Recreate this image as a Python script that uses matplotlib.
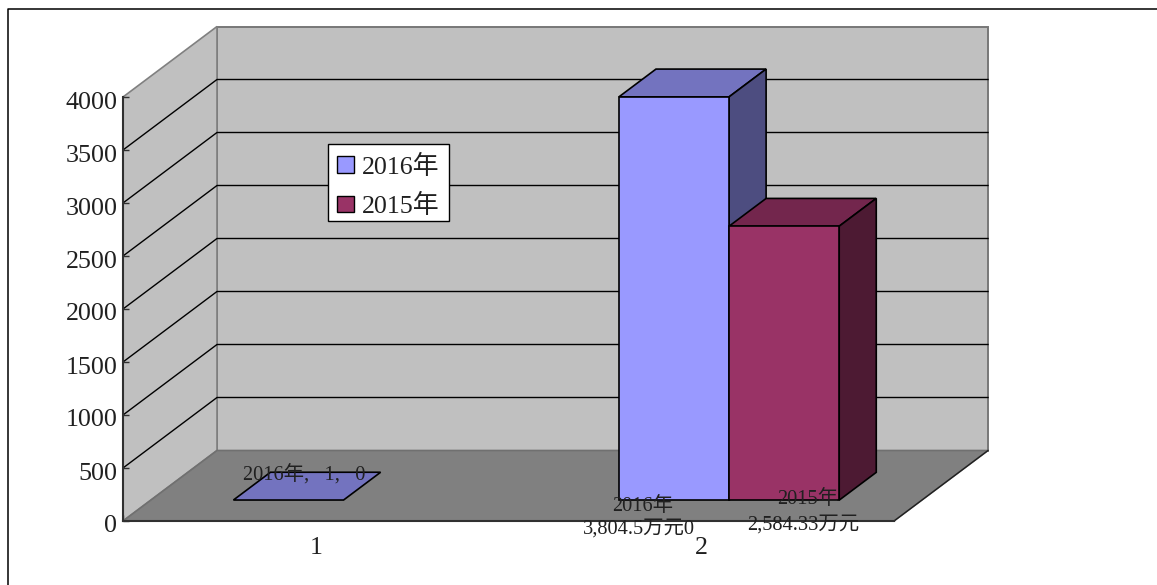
import matplotlib
matplotlib.use('Agg')
import matplotlib.pyplot as plt
from matplotlib.lines import Line2D
from matplotlib.patches import Patch, Polygon, Rectangle
from matplotlib.transforms import Affine2D

plt.rcParams['font.family'] = ['Liberation Serif', 'Noto Sans CJK SC']

categories = ['1', '2']
series_names = ['2016年', '2015年']
values_2016 = [1, 3804.5]
values_2015 = [0, 2584.33]
y_ticks = [0, 500, 1000, 1500, 2000, 2500, 3000, 3500, 4000]

front_colors = ['#9999FF', '#993366']
top_colors = ['#7373BF', '#73264D']
side_colors = ['#4D4D80', '#4D1A33']

W, H = 1157, 585
x_max = 2.0
y_max = 4000.0
# oblique offset of the back wall, in data units
depth_x = 94 / 771 * x_max
depth_y = 70.5 / 424 * y_max
bar_width = 1 / 3.5
bar_d0, bar_d1 = 0.296, 0.69


def proj(x, y, d):
    return (x + d * depth_x, y + d * depth_y)


fig = plt.figure(figsize=(W / 100, H / 100), dpi=100)
# page frame: only the top and left edges are visible
fig.add_artist(Line2D([7.5 / W, 7.5 / W, 1], [0, 1 - 8.5 / H, 1 - 8.5 / H], transform=fig.transFigure,
                      color='black', lw=1.1, zorder=-1))
ax = fig.add_axes([123 / W, (H - 521) / H, 771 / W, 424 / H])
ax.set_xlim(0, x_max)
ax.set_ylim(0, y_max)
ax.patch.set_visible(False)


def face(points, fc, ec, lw, z):
    ax.add_patch(Polygon(points, closed=True, fc=fc, ec=ec, lw=lw, zorder=z, clip_on=False))


# walls and floor
face([proj(0, 0, 1), proj(x_max, 0, 1), proj(x_max, y_max, 1), proj(0, y_max, 1)], '#C0C0C0', '#787878', 1.4, 1)
face([proj(0, 0, 0), proj(0, 0, 1), proj(0, y_max, 1), proj(0, y_max, 0)], '#C0C0C0', '#808080', 1.2, 1)
for v in y_ticks[1:-1]:
    ax.plot(*zip(proj(0, v, 0), proj(0, v, 1), proj(x_max, v, 1)), color='black', lw=1, zorder=1.5, clip_on=False)
face([proj(0, 0, 0), proj(x_max, 0, 0), proj(x_max, 0, 1), proj(0, 0, 1)], '#808080', '#707070', 1.2, 2)
ax.plot(*zip(proj(x_max, 0, 0), proj(x_max, 0, 1)), color='#202020', lw=1, zorder=2.1, clip_on=False)


def draw_bar(left, value, idx, z):
    right = left + bar_width
    face([proj(left, value, bar_d0), proj(right, value, bar_d0), proj(right, value, bar_d1), proj(left, value, bar_d1)],
         top_colors[idx], 'black', 1.2, z)
    if value > 1:
        face([proj(right, 0, bar_d0), proj(right, 0, bar_d1), proj(right, value, bar_d1), proj(right, value, bar_d0)],
             side_colors[idx], 'black', 1.2, z)
        face([proj(left, 0, bar_d0), proj(right, 0, bar_d0), proj(right, value, bar_d0), proj(left, value, bar_d0)],
             front_colors[idx], 'black', 1.2, z)


for i in range(len(categories)):
    center = i + 0.5
    if values_2016[i] > 0:
        draw_bar(center - bar_width, values_2016[i], 0, 3)
    if values_2015[i] > 0:
        draw_bar(center, values_2015[i], 1, 3.1)

# data labels
label_size = 14.7
label_specs = [
    (0.5, values_2016[0], '2016年,   1,   0', -39, 26),
    (1.5, 0, '2016年', -86, -6),
    (1.5, 0, '3,804.5万元0', -90, -29),
    (1.5, 0, '2015年', 79, 1),
    (1.5, 0, '2,584.33万元', 74, -25),
]
for x, y, txt, dx, dy in label_specs:
    ax.annotate(txt, xy=proj(x, y, bar_d0), xytext=(dx, dy), textcoords='offset pixels',
                ha='center', va='center', fontsize=label_size, color='#202020', zorder=5, annotation_clip=False)

# axes
for name in ['top', 'right']:
    ax.spines[name].set_visible(False)
for name in ['left', 'bottom']:
    ax.spines[name].set_color('#303030')
    ax.spines[name].set_linewidth(1.5)
    ax.spines[name].set_zorder(4)
ax.set_yticks(y_ticks)
ax.set_xticks([0, 1, 2])
ax.set_xticklabels([])
ax.set_xticks([0.5, 1.5], minor=True)
ax.set_xticklabels(categories, minor=True)
ax.tick_params(axis='both', which='major', direction='in', length=4, width=1, color='#303030')
ax.tick_params(axis='y', labelsize=18.7, pad=4, labelcolor='#202020')
ax.tick_params(axis='x', which='minor', length=0, labelsize=18.7, pad=11.5, labelcolor='#202020')
# labels sit a little under their ticks
for lab in ax.get_yticklabels():
    lab.set_transform(lab.get_transform() + Affine2D().translate(0, -3))

# legend box is drawn separately, its height is tighter than the legend's own padding
fig.add_artist(Rectangle((327.5 / W, 1 - 220.5 / H), 122 / W, 77 / H, transform=fig.transFigure,
                         fc='white', ec='black', lw=1, zorder=5))
handles = [Patch(fc=front_colors[0], ec='black'), Patch(fc=front_colors[1], ec='black')]
leg = fig.legend(handles, series_names, loc='upper left', bbox_to_anchor=(326.5 / W, 1 - 144 / H),
                 fontsize=18.7, frameon=False, labelcolor='#202020', handlelength=0.62, handleheight=0.62,
                 handletextpad=0.33, labelspacing=0.58, borderpad=0.42, borderaxespad=0)
leg.set_zorder(6)

fig.savefig('out.png', dpi=100)
